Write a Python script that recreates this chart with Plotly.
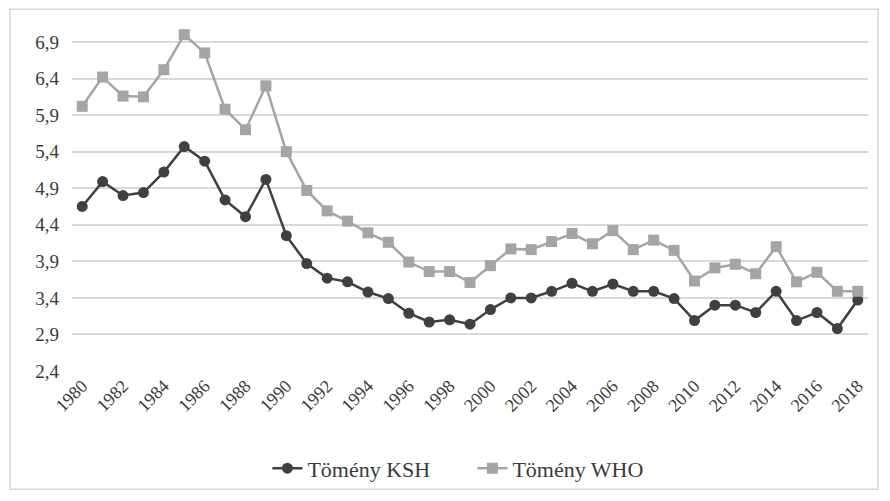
import plotly.graph_objects as go

years = list(range(1980, 2019))

# Tömény KSH
ksh = [4.65, 4.99, 4.80, 4.84, 5.12, 5.47, 5.27, 4.74, 4.51, 5.02,
       4.25, 3.87, 3.67, 3.62, 3.48, 3.39, 3.19, 3.07, 3.10, 3.04,
       3.24, 3.40, 3.40, 3.49, 3.60, 3.49, 3.59, 3.49, 3.49, 3.39,
       3.09, 3.30, 3.30, 3.20, 3.49, 3.09, 3.20, 2.98, 3.37]

# Tömény WHO
who = [6.02, 6.42, 6.16, 6.15, 6.52, 7.00, 6.75, 5.98, 5.70, 6.30,
       5.40, 4.87, 4.59, 4.45, 4.29, 4.16, 3.89, 3.76, 3.76, 3.61,
       3.84, 4.07, 4.06, 4.17, 4.28, 4.14, 4.32, 4.06, 4.19, 4.05,
       3.63, 3.81, 3.86, 3.73, 4.10, 3.62, 3.75, 3.49, 3.49]

y_ticks = [2.4, 2.9, 3.4, 3.9, 4.4, 4.9, 5.4, 5.9, 6.4, 6.9]
y_labels = ["2,4", "2,9", "3,4", "3,9", "4,4", "4,9", "5,4", "5,9", "6,4", "6,9"]
x_ticks = list(range(1980, 2019, 2))

fig = go.Figure()

fig.add_trace(
    go.Scatter(
        x=years, y=ksh, name="Tömény KSH", mode="lines+markers",
        line={"color": "#404040", "width": 2.5},
        marker={"symbol": "circle", "size": 11, "color": "#404040"},
        cliponaxis=False,
    )
)
fig.add_trace(
    go.Scatter(
        x=years, y=who, name="Tömény WHO", mode="lines+markers",
        line={"color": "#a5a5a5", "width": 2.5},
        marker={"symbol": "square", "size": 11, "color": "#a5a5a5"},
        cliponaxis=False,
    )
)

# page has an 8px body margin, so the figure is shrunk by that much.
# y range goes a bit past 6,9 so the 1985 peak is not clipped (grid still stops at 6,9)
ph = 331 * 4.65 / 4.5
fig.update_layout(
    width=882, height=493,
    margin={"l": 64, "r": 22, "t": 493 - 128 - ph, "b": 128},
    paper_bgcolor="white",
    plot_bgcolor="white",
    font=dict(family="Liberation Serif, Times New Roman, serif", size=19, color="#3a3a3a"),
    showlegend=True,
    legend=dict(
        orientation="h", x=0.503, xanchor="center", y=-98 / ph, yanchor="middle",
        font=dict(size=22, color="#3a3a3a"), entrywidth=160,
        bgcolor="rgba(0,0,0,0)",
    ),
    xaxis=dict(
        range=[1979.5, 2018.5], tickvals=x_ticks, tickangle=-45,
        showgrid=False, zeroline=False, showline=False, ticks="",
        tickfont=dict(size=18),
    ),
    yaxis=dict(
        range=[2.4, 7.05], tickvals=y_ticks, ticktext=y_labels,
        showgrid=True, gridcolor="#d9d9d9", gridwidth=2,
        zeroline=False, showline=False, ticks="",
        ticklabelstandoff=12,
        tickfont=dict(size=19),
    ),
    shapes=[
        # outer chart border
        dict(type="rect", xref="paper", yref="paper",
             x0=-62 / 796, x1=1 + 10 / 796, y0=-119 / ph, y1=(ph + 22) / ph,
             line=dict(color="#d9d9d9", width=1.5), layer="below"),
    ],
)

fig.write_html("out.html")
